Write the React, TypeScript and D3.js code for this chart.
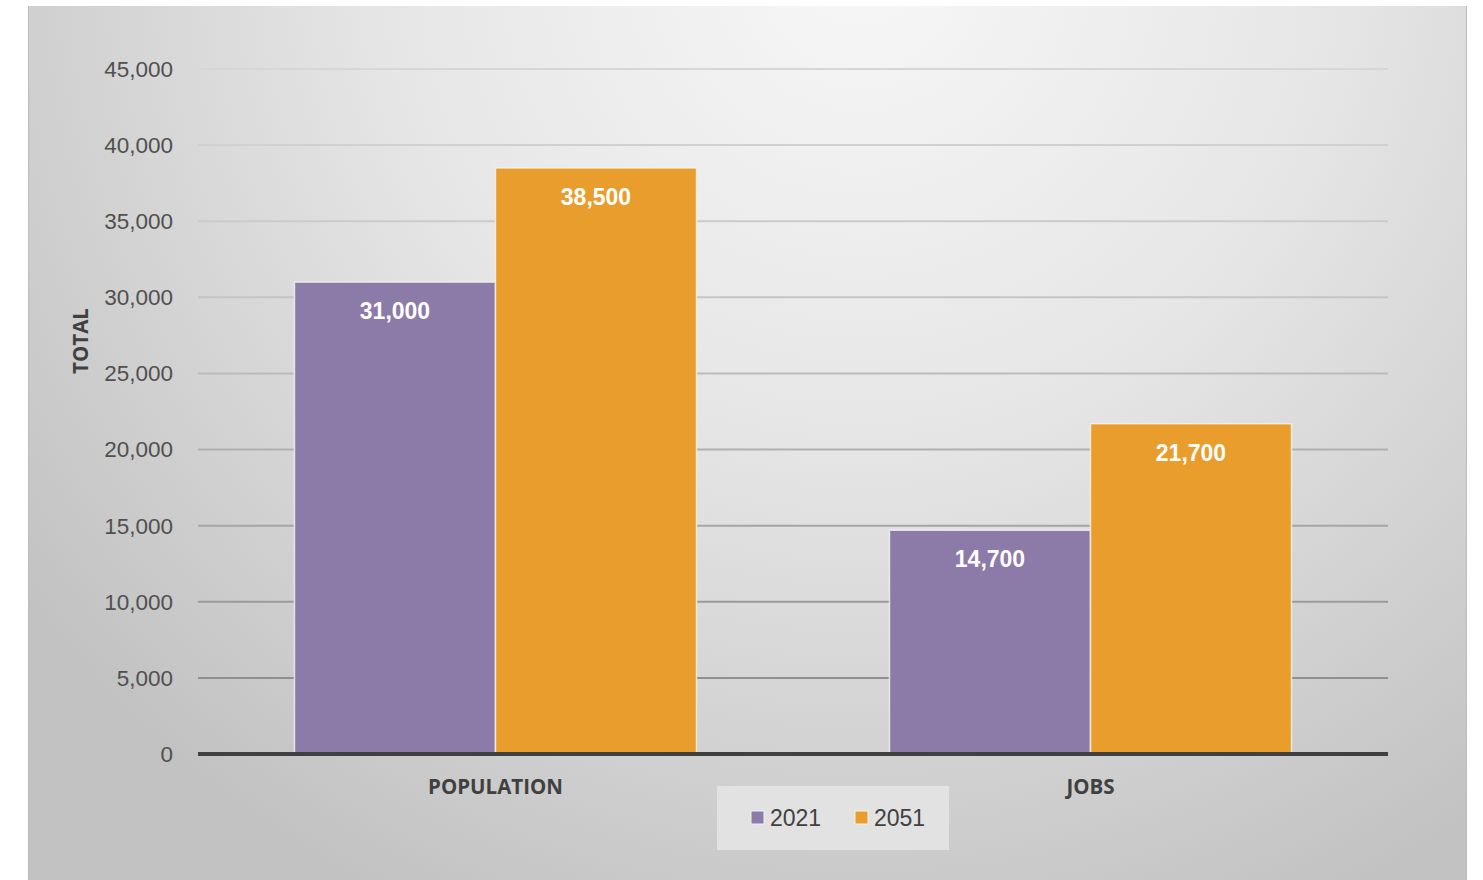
import React from "react";
import * as d3 from "d3";

const categories = ["POPULATION", "JOBS"];
const seriesNames = ["2021", "2051"];
const values2021 = [31000, 14700];
const values2051 = [38500, 21700];
const yTicks = [0, 5000, 10000, 15000, 20000, 25000, 30000, 35000, 40000, 45000];
const colors = ["#8c7aa8", "#e99d2c"];

const W = 1483;
const H = 880;
const plot = { left: 198, right: 1388, top: 69, bottom: 754 };

export default function App() {
  React.useEffect(() => {
    document.body.style.margin = "0";
  }, []);
  const x0 = d3.scaleBand<string>().domain(categories).range([plot.left, plot.right]).padding(0);
  const x1 = d3
    .scaleBand<string>()
    .domain(seriesNames)
    .range([0, x0.bandwidth()])
    .paddingInner(0)
    .paddingOuter(0.48);
  const y = d3.scaleLinear().domain([0, 45000]).range([plot.bottom, plot.top]);
  const fmt = d3.format(",");
  const series = [values2021, values2051];
  const font = "'Liberation Sans', Arial, sans-serif";
  const boldFont = "'Open Sans', 'Noto Sans', sans-serif";

  return (
    <svg width={W} height={H} style={{ display: "block" }}>
      <defs>
        <radialGradient id="bg" gradientUnits="userSpaceOnUse" cx={860} cy={-40} r={1050}>
          <stop offset="0" stopColor="#f7f7f7" />
          <stop offset="0.45" stopColor="#e6e6e6" />
          <stop offset="1" stopColor="#c2c2c2" />
        </radialGradient>
        <linearGradient id="grid" gradientUnits="userSpaceOnUse" x1={0} y1={plot.top} x2={0} y2={plot.bottom}>
          <stop offset="0" stopColor="#d6d6d6" />
          <stop offset="0.35" stopColor="#c4c4c4" />
          <stop offset="1" stopColor="#858585" />
        </linearGradient>
      </defs>
      <rect x={0} y={0} width={W} height={H} fill="#ffffff" />
      <rect x={28} y={6} width={1439} height={874} fill="url(#bg)" />
      <line x1={28.5} y1={6} x2={28.5} y2={880} stroke="#bdbdbd" strokeWidth={1} />
      <line x1={1466.5} y1={6} x2={1466.5} y2={880} stroke="#bdbdbd" strokeWidth={1} />

      {yTicks.map((t) => (
        <g key={t}>
          {t !== 0 && (
            <line
              x1={plot.left}
              x2={plot.right}
              y1={y(t)}
              y2={y(t)}
              stroke="url(#grid)"
              strokeWidth={2}
            />
          )}
          <text
            x={173}
            y={y(t)}
            dy="0.35em"
            textAnchor="end"
            fontFamily={font}
            fontSize={22.5}
            fill="#505050"
          >
            {fmt(t)}
          </text>
        </g>
      ))}

      {categories.map((c, ci) => (
        <g key={c}>
          {seriesNames.map((s, si) => {
            const v = series[si][ci];
            const bx = (x0(c) as number) + (x1(s) as number);
            const bw = x1.bandwidth();
            return (
              <g key={s}>
                <rect
                  x={bx}
                  y={y(v)}
                  width={bw}
                  height={y(0) - y(v)}
                  fill={colors[si]}
                  stroke="#f4f4f4"
                  strokeOpacity={0.8}
                  strokeWidth={1.5}
                />
                <text
                  x={bx + bw / 2}
                  y={y(v) + 29}
                  dy="0.35em"
                  textAnchor="middle"
                  fontFamily={font}
                  fontWeight="bold"
                  fontSize={23}
                  fill="#ffffff"
                >
                  {fmt(v)}
                </text>
              </g>
            );
          })}
          <text
            x={(x0(c) as number) + x0.bandwidth() / 2}
            y={787}
            dy="0.35em"
            textAnchor="middle"
            fontFamily={boldFont}
            fontWeight="bold"
            fontSize={20.5}
            fill="#404040"
          >
            {c}
          </text>
        </g>
      ))}

      <line x1={plot.left} x2={plot.right} y1={y(0)} y2={y(0)} stroke="#404040" strokeWidth={4} />

      <text
        transform={`translate(81, 341) rotate(-90)`}
        dy="0.35em"
        textAnchor="middle"
        fontFamily={boldFont}
        fontWeight="bold"
        fontSize={20.5}
        fill="#404040"
      >
        TOTAL
      </text>

      <rect x={717} y={786} width={232} height={64} fill="#e2e2e2" />
      {seriesNames.map((s, i) => {
        const lx = [751, 855][i];
        return (
          <g key={s}>
            <rect x={lx} y={811} width={13} height={13} fill={colors[i]} stroke="#f0f0f0" strokeWidth={1} />
            <text x={lx + 19} y={818} dy="0.35em" fontFamily={font} fontSize={23} fill="#404040">
              {s}
            </text>
          </g>
        );
      })}
    </svg>
  );
}
